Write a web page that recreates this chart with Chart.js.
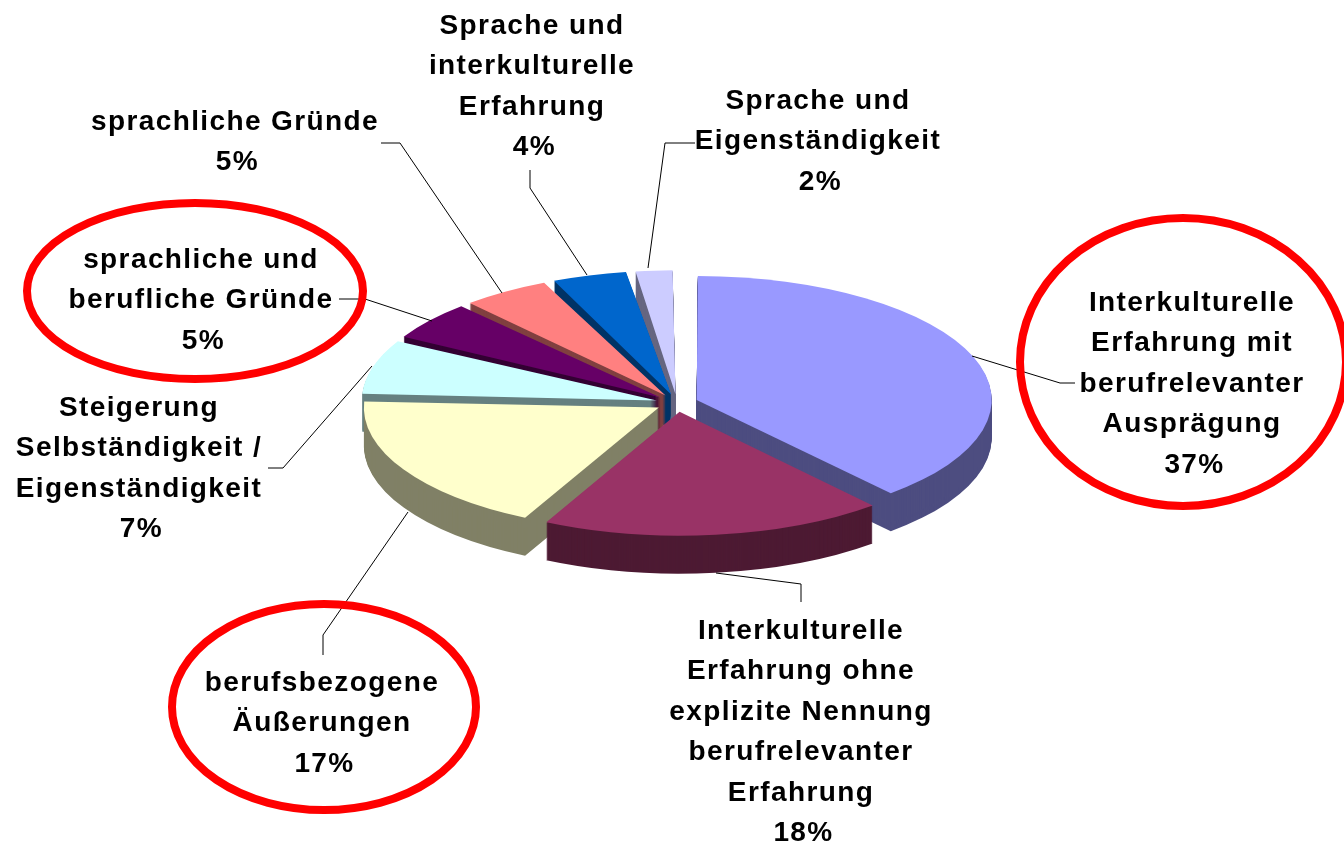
<!DOCTYPE html>
<html>
<head>
<meta charset="utf-8">
<title>Gründe</title>
<script src="https://cdn.jsdelivr.net/npm/chart.js@4"></script>
<style>
    html, body { margin: 0; padding: 0; background: #fff; }
    #wrap { width: 1344px; height: 841px; }
</style>
</head>
<body>
<div id="wrap"><canvas id="pie" width="1344" height="841"></canvas></div>
<script>
const categories = [
    ['Interkulturelle', 'Erfahrung mit', 'berufrelevanter', 'Ausprägung'],
    ['Interkulturelle', 'Erfahrung ohne', 'explizite Nennung', 'berufrelevanter', 'Erfahrung'],
    ['berufsbezogene', 'Äußerungen'],
    ['Steigerung', 'Selbständigkeit /', 'Eigenständigkeit'],
    ['sprachliche und', 'berufliche Gründe'],
    ['sprachliche Gründe'],
    ['Sprache und', 'interkulturelle', 'Erfahrung'],
    ['Sprache und', 'Eigenständigkeit']
];
const values = [36.7, 17.9, 17.4, 6.9, 5, 4.8, 4.1, 2.2];
const percents = ['37%', '18%', '17%', '7%', '5%', '5%', '4%', '2%'];
const topColors = ['#9999FF', '#993366', '#FFFFCC', '#CCFFFF', '#660066', '#FF8080', '#0066CC', '#CCCCFF'];
const sideColors = ['#4D4D80', '#4D1A33', '#808066', '#668080', '#330033', '#804040', '#003366', '#666680'];

// centre x / first line y of each label block
const labelPos = [[1192, 303], [801, 631], [322, 683], [139, 408], [201, 260], [235, 122], [532, 26], [818, 101]];
const lineHeight = 40.5;
const leaders = [
    [[972, 356], [1060, 383], [1075, 383]],
    [[716, 573], [801, 584], [801, 602]],
    [[408, 512], [323, 635], [323, 655]],
    [[372, 366], [283, 468], [268, 468]],
    [[339, 299], [365, 299], [432, 321]],
    [[381, 143], [400, 143], [502, 293]],
    [[530, 170], [530, 188], [587, 275]],
    [[695, 143], [665, 143], [648, 268]]
];
const ovals = [[1183, 362, 163, 144], [195, 291, 168, 88], [324, 707, 152, 103]];

const centerX = 677, centerY = 403, radius = 295, squash = 0.42, depth = 38, explode = 84;

function place(ctx, arc, dy) {
    ctx.translate(centerX, centerY + dy);
    ctx.scale(1, squash);
    ctx.translate(-arc.x, -arc.y);
}

const tiltPlugin = {
    id: 'tilt',
    beforeDatasetsDraw(chart) {
        const ctx = chart.ctx;
        const arcs = chart.getDatasetMeta(0).data;
        arcs.forEach(arc => {
            // chart.js grows the radius of an offset arc, take that back out
            const grow = (explode / 4) * (1 - Math.sin(Math.min(Math.PI, arc.circumference)));
            arc.outerRadius = radius - grow;
        });
        const order = arcs.map((arc, i) => i).sort((a, b) => {
            const mid = i => (arcs[i].startAngle + arcs[i].endAngle) / 2;
            return Math.sin(mid(a)) - Math.sin(mid(b));
        });
        order.forEach(i => {
            const arc = arcs[i];
            const resolved = arc.options;
            arc.options = Object.create(resolved);
            arc.options.backgroundColor = sideColors[i];
            for (let d = depth; d > 0; d--) {
                ctx.save();
                place(ctx, arc, d);
                arc.draw(ctx);
                ctx.restore();
            }
            arc.options = resolved;
        });
        ctx.save();
        place(ctx, arcs[0], 0);
    },
    afterDatasetsDraw(chart) {
        chart.ctx.restore();
    },
    afterDraw(chart) {
        const ctx = chart.ctx;
        ctx.save();
        ctx.strokeStyle = '#000';
        ctx.lineWidth = 1;
        leaders.forEach(points => {
            ctx.beginPath();
            points.forEach((p, i) => i ? ctx.lineTo(p[0], p[1]) : ctx.moveTo(p[0], p[1]));
            ctx.stroke();
        });
        ctx.strokeStyle = '#FF0000';
        ctx.lineWidth = 8;
        ovals.forEach(o => {
            ctx.beginPath();
            ctx.ellipse(o[0], o[1], o[2], o[3], 0, 0, Math.PI * 2);
            ctx.stroke();
        });
        ctx.fillStyle = '#000';
        ctx.font = 'bold 28px "Liberation Sans"';
        ctx.letterSpacing = '1.4px';
        ctx.textAlign = 'center';
        ctx.textBaseline = 'middle';
        categories.forEach((lines, i) => {
            lines.forEach((line, n) => {
                ctx.fillText(line, labelPos[i][0], labelPos[i][1] + n * lineHeight);
            });
            // the percent line sits a little right of the block centre
            ctx.fillText(percents[i], labelPos[i][0] + 2.5, labelPos[i][1] + lines.length * lineHeight);
        });
        ctx.restore();
    }
};

new Chart(document.getElementById('pie'), {
    type: 'pie',
    data: {
        labels: categories.map(c => c.join(' ')),
        datasets: [{
            data: values,
            backgroundColor: topColors,
            borderWidth: 0,
            offset: explode,
            clip: false
        }]
    },
    options: {
        responsive: false,
        animation: false,
        radius: radius,
        events: [],
        plugins: { legend: { display: false }, tooltip: { enabled: false } }
    },
    plugins: [tiltPlugin]
});
</script>
</body>
</html>
